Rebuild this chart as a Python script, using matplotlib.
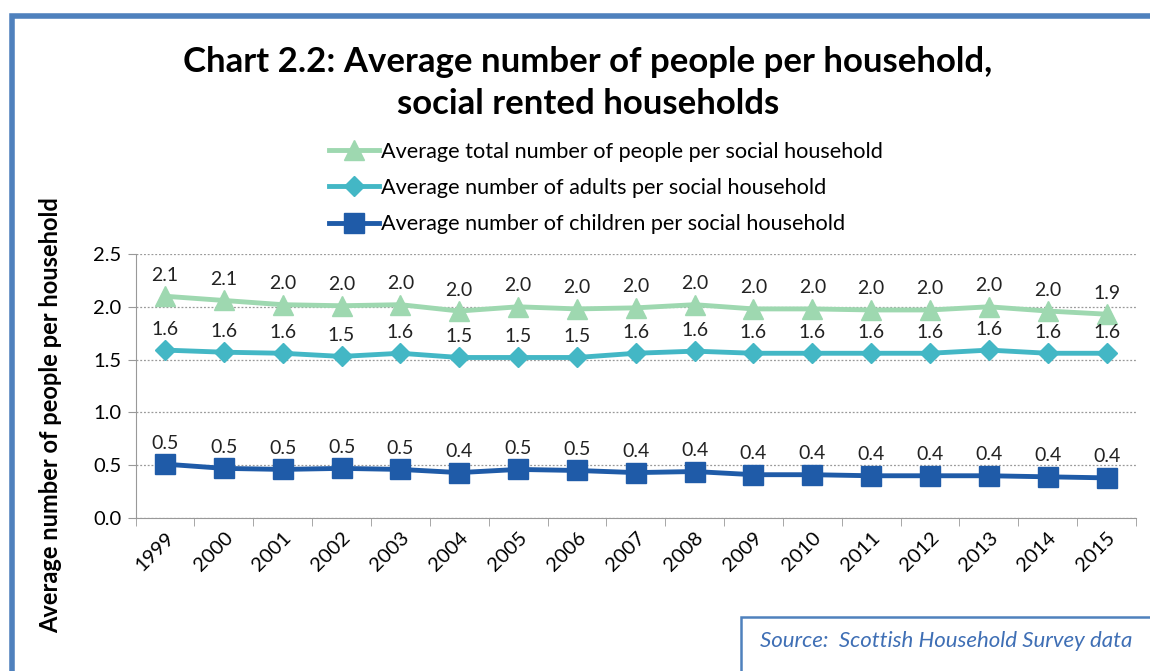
import matplotlib
matplotlib.use("Agg")
import matplotlib.pyplot as plt
from matplotlib.patches import Rectangle
import numpy as np

plt.rcParams['font.family'] = ['Lato', 'DejaVu Sans']

# data
years = ['1999', '2000', '2001', '2002', '2003', '2004', '2005', '2006', '2007',
         '2008', '2009', '2010', '2011', '2012', '2013', '2014', '2015']
total = [2.10, 2.06, 2.02, 2.01, 2.02, 1.96, 2.00, 1.98, 1.99,
         2.02, 1.98, 1.98, 1.97, 1.97, 2.00, 1.96, 1.93]
adults = [1.59, 1.57, 1.56, 1.53, 1.56, 1.52, 1.52, 1.52, 1.56,
          1.58, 1.56, 1.56, 1.56, 1.56, 1.59, 1.56, 1.56]
children = [0.51, 0.47, 0.46, 0.47, 0.46, 0.43, 0.46, 0.45, 0.43,
            0.44, 0.41, 0.41, 0.40, 0.40, 0.40, 0.39, 0.38]

names = ['Average total number of people per social household',
         'Average number of adults per social household',
         'Average number of children per social household']
colors = ['#9ED8B0', '#43B7C5', '#1F5BA8']
markers = ['^', 'D', 's']
msizes = [14, 10.5, 14]

fig = plt.figure(figsize=(11.5, 6.71), dpi=100)
W, H = 1150, 671

# outer blue frame
fig.patches.append(Rectangle((12 / W, -0.1), 1.2, 1 - 16 / H + 0.1,
                             transform=fig.transFigure, fill=False,
                             edgecolor='#4F81BD', lw=4))

ax = fig.add_axes([135.6 / W, 1 - 518 / H, 1000.4 / W, 264 / H])
x = np.arange(len(years))
series = [total, adults, children]
for s, name, c, m, ms in zip(series, names, colors, markers, msizes):
    ax.plot(x, s, color=c, marker=m, markersize=ms, lw=3.5, label=name)
    for xi, v in zip(x, s):
        ax.annotate('%.1f' % v, (xi, v), xytext=(0, 9), textcoords='offset points',
                    ha='center', va='bottom', fontsize=14, color='#222222')

ax.set_xlim(-0.5, len(years) - 0.5)
ax.set_ylim(0, 2.5)
ax.set_yticks(np.arange(0, 2.51, 0.5))
ax.set_yticklabels(['%.1f' % t for t in np.arange(0, 2.51, 0.5)], fontsize=14.5)
ax.set_xticks(x)
ax.set_xticklabels(years, rotation=45, ha='right', va='top',
                   rotation_mode='anchor', fontsize=14.5)
ax.set_xticks(np.arange(-0.5, len(years)), minor=True)
ax.tick_params(axis='x', which='major', length=0, pad=8)
ax.tick_params(axis='x', which='minor', length=6, color='#999999')
ax.tick_params(axis='y', length=6, color='#999999', pad=4)
ax.grid(axis='y', linestyle=(0, (1.5, 1.5)), color='#999999', lw=0.9)
ax.set_axisbelow(True)
for sp in ['top', 'right']:
    ax.spines[sp].set_visible(False)
for sp in ['left', 'bottom']:
    ax.spines[sp].set_color('#999999')
ax.set_ylabel('Average number of people per household', fontsize=17,
              fontweight='bold')
ax.yaxis.set_label_coords(-0.0736, 0.39)

fig.text(588 / W, 1 - 83 / H,
         'Chart 2.2: Average number of people per household,\nsocial rented households',
         ha='center', va='center', fontsize=25, fontweight='bold', linespacing=1.35)

fig.legend(loc='upper left', bbox_to_anchor=(320 / W, 1 - 133 / H), frameon=False,
           fontsize=15.6, handlelength=2.3, handletextpad=0.1, labelspacing=0.75,
           borderaxespad=0)

# source box
fig.patches.append(Rectangle((741 / W, -0.1), 0.5, 0.1 + (H - 617) / H,
                             transform=fig.transFigure, fill=False,
                             edgecolor='#4F81BD', lw=1.8))
fig.text(760 / W, 1 - 641 / H, 'Source:  Scottish Household Survey data',
         ha='left', va='center', fontsize=16, style='italic', color='#3F6FB5')

fig.savefig('out.png', dpi=100)
